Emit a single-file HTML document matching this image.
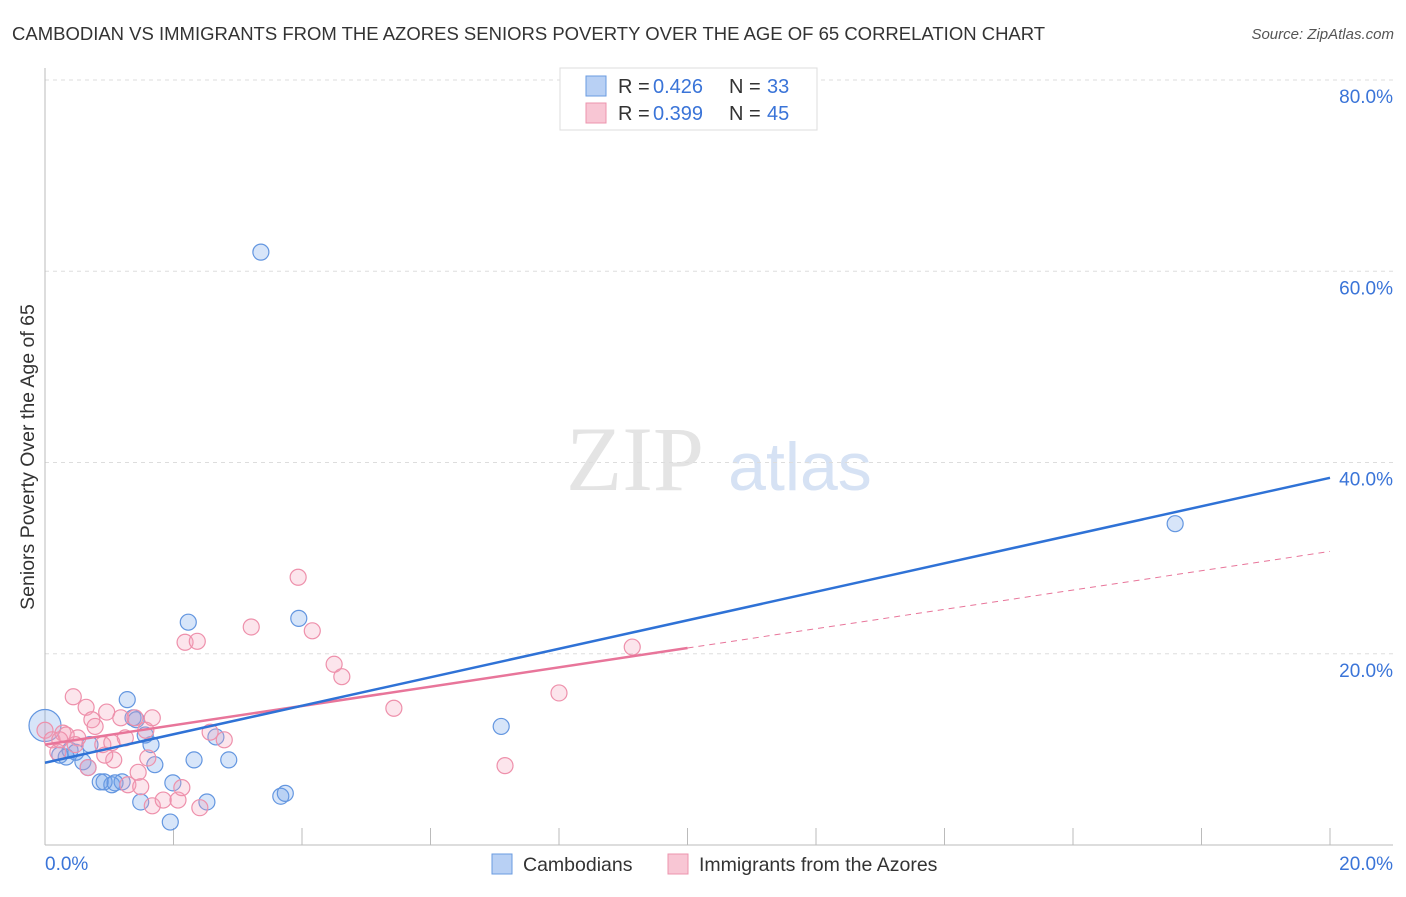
<!DOCTYPE html>
<html><head><meta charset="utf-8"><style>
body{margin:0;background:#fff;font-family:"Liberation Sans",sans-serif;}
</style></head><body>
<svg width="1406" height="892" xmlns="http://www.w3.org/2000/svg">
<text x="12" y="40" font-size="18.5" fill="#333">CAMBODIAN VS IMMIGRANTS FROM THE AZORES SENIORS POVERTY OVER THE AGE OF 65 CORRELATION CHART</text>
<text x="1394" y="39" font-size="15" fill="#555" font-style="italic" text-anchor="end">Source: ZipAtlas.com</text>
<g>
<text x="635" y="490" font-size="92" font-family="Liberation Serif,serif" fill="#e4e4e4" text-anchor="middle">ZIP</text>
<text x="800" y="490" font-size="68" fill="#d6e2f4" text-anchor="middle">atlas</text>
</g>
<g id="grid"></g>
<g id="axes"></g>
<g id="marks"></g>
<text transform="translate(34,457) rotate(-90)" font-size="19.5" fill="#333" text-anchor="middle">Seniors Poverty Over the Age of 65</text>
<g>
<rect x="560" y="68" width="257" height="62" fill="#fff" stroke="#ddd"/>
<rect x="586" y="76" width="20" height="20" fill="#b8d0f4" stroke="#6a9be0"/>
<rect x="586" y="103" width="20" height="20" fill="#f8c6d4" stroke="#ec94ae"/>
<g font-size="20" fill="#333">
<text x="618" y="93">R =</text><text x="653" y="93" fill="#3a74d8">0.426</text>
<text x="729" y="93">N =</text><text x="767" y="93" fill="#3a74d8">33</text></g>
<g font-size="20" fill="#333">
<text x="618" y="120">R =</text><text x="653" y="120" fill="#3a74d8">0.399</text>
<text x="729" y="120">N =</text><text x="767" y="120" fill="#3a74d8">45</text></g>
</g>
<g>
<rect x="492" y="854" width="20" height="20" fill="#b8d0f4" stroke="#6a9be0"/>
<text x="523" y="871" font-size="19.5" fill="#333">Cambodians</text>
<rect x="668" y="854" width="20" height="20" fill="#f8c6d4" stroke="#ec94ae"/>
<text x="699" y="871" font-size="19.5" fill="#333">Immigrants from the Azores</text>
</g>
</svg>
<script>
const xTicks=[0,2,4,6,8,10,12,14,16,18,20];
const yTickLabels=[20,40,60,80];
const blueX=[0,.23,.39,.70,.67,.59,.86,1.04,1.20,1.28,1.37,1.56,1.65,1.49,1.71,1.95,1.99,2.23,2.32,2.52,2.66,2.86,3.36,3.67,3.74,3.95,7.10,17.59,.92,.48,1.09,.33,1.42];
const blueY=[12.5,9.4,9.9,10.5,8.1,8.7,6.6,6.3,6.6,15.2,13.3,11.5,10.5,4.5,8.4,2.4,6.5,23.3,8.9,4.5,11.3,8.9,62.0,5.1,5.4,23.7,12.4,33.6,6.6,9.7,6.5,9.2,13.1];
const pinkX=[0,.11,.20,.28,.44,.64,.73,.78,.51,.33,.47,.90,.96,1.07,.93,1.04,1.18,1.29,1.45,1.49,1.57,1.67,1.60,1.67,1.84,2.07,2.13,2.18,2.37,2.41,2.57,2.79,3.21,3.94,4.16,4.50,4.62,5.43,7.16,8.00,9.14,.67,.23,1.25,1.40];
const pinkY=[12.0,11.0,9.7,11.7,15.5,14.4,13.1,12.4,11.2,11.5,10.5,10.5,13.9,8.9,9.4,10.7,13.3,6.3,7.6,6.1,12.0,13.3,9.1,4.1,4.7,4.7,6.0,21.2,21.3,3.9,11.8,11.0,22.8,28.0,22.4,18.9,17.6,14.3,8.3,15.9,20.7,8.1,11.0,11.2,13.3];
const blueLine=[8.6,38.4];
const pinkLine=[10.5,30.7];
const pinkSolidEnd=10;
const NS="http://www.w3.org/2000/svg";
const sx=v=>45+v*64.25, sy=v=>845-v*9.5625;
function mk(t,a,p){const e=document.createElementNS(NS,t);for(const k in a)e.setAttribute(k,a[k]);p.appendChild(e);return e;}
const grid=document.getElementById('grid'),axes=document.getElementById('axes'),marks=document.getElementById('marks');
yTickLabels.forEach(v=>{
 const l=mk('line',{x1:45,x2:1393,y1:sy(v),y2:sy(v),stroke:'#ddd','stroke-dasharray':'4,4'},grid);
 
 
 const t=mk('text',{x:1393,y:sy(v)+23,'font-size':19,fill:'#3a74d8','text-anchor':'end'},axes);
 t.textContent=v.toFixed(1)+'%';
 
 
});
let a=mk('line',{x1:45,x2:45,y1:68,y2:845,stroke:'#bbb'},axes);


a=mk('line',{x1:45,x2:1393,y1:845,y2:845,stroke:'#bbb'},axes);


xTicks.forEach(v=>{
 const l=mk('line',{x1:sx(v),x2:sx(v),y1:828,y2:845,stroke:'#bbb'},axes);
 
 
});
[[0,'start',45],[20,'end',1393]].forEach(([v,an,x])=>{
 const t=mk('text',{x:x,y:870,'font-size':19,fill:'#3a74d8','text-anchor':an},axes);
 t.textContent=v.toFixed(1)+'%';
 
 
});
blueX.forEach((x,i)=>{
 const c=mk('circle',{cx:sx(x),cy:sy(blueY[i]),r:i===0?16:8,fill:'rgba(110,160,235,0.28)',stroke:'#6396e0','stroke-width':1.2},marks);
 
 
});
pinkX.forEach((x,i)=>{
 const c=mk('circle',{cx:sx(x),cy:sy(pinkY[i]),r:8,fill:'rgba(245,160,185,0.28)',stroke:'#ee90ab','stroke-width':1.2},marks);
 
 
});
const pAt=x=>pinkLine[0]+(pinkLine[1]-pinkLine[0])*x/20;
let l=mk('line',{x1:sx(pinkSolidEnd),y1:sy(pAt(pinkSolidEnd)),x2:sx(20),y2:sy(pinkLine[1]),stroke:'#e8759a','stroke-width':1,'stroke-dasharray':'6,5'},marks);


l=mk('line',{x1:sx(0),y1:sy(pinkLine[0]),x2:sx(pinkSolidEnd),y2:sy(pAt(pinkSolidEnd)),stroke:'#e8759a','stroke-width':2.5},marks);


l=mk('line',{x1:sx(0),y1:sy(blueLine[0]),x2:sx(20),y2:sy(blueLine[1]),stroke:'#2f72d6','stroke-width':2.5},marks);


</script>
</body></html>
